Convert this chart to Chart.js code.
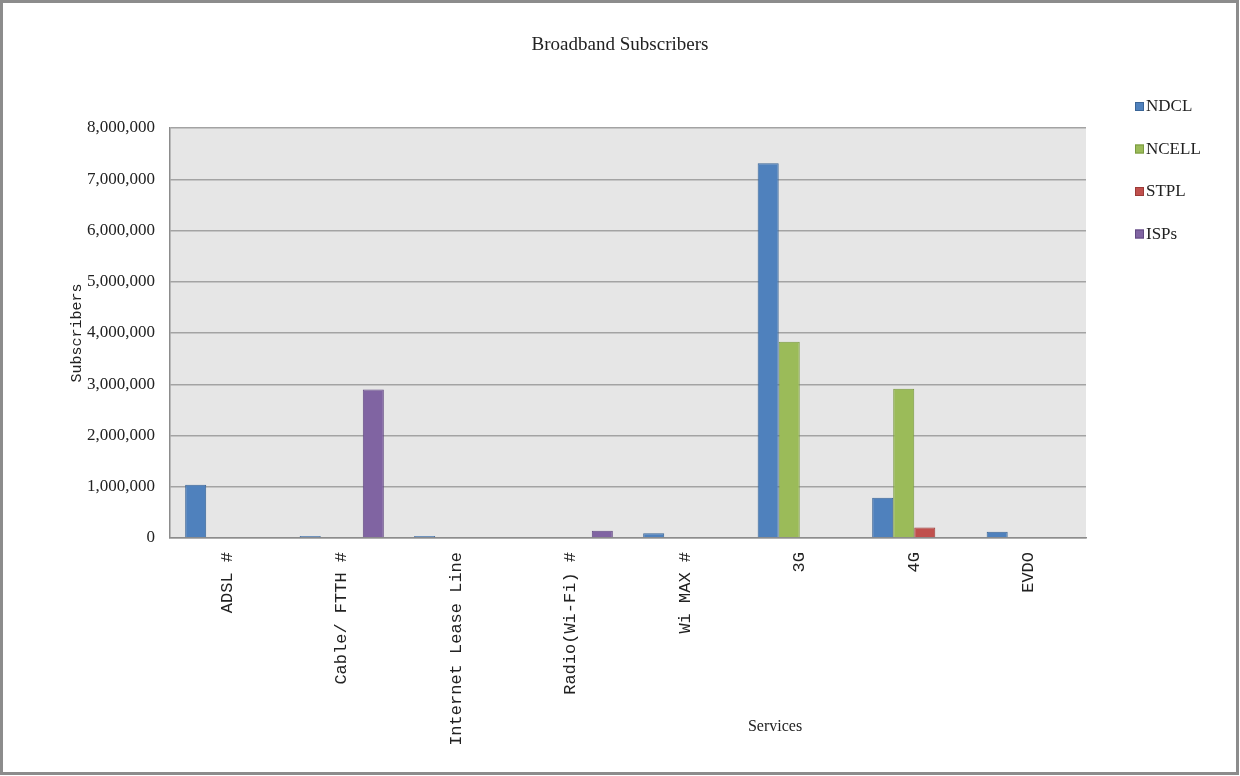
<!DOCTYPE html>
<html>
<head>
<meta charset="utf-8">
<title>Broadband Subscribers</title>
<script src="https://cdn.jsdelivr.net/npm/chart.js@4.4.1/dist/chart.umd.min.js"></script>
<style>
  html, body { margin: 0; padding: 0; background: #fff; }
  #wrap { width: 1240px; height: 776px; }
</style>
</head>
<body>
<div id="wrap"><canvas id="chart" width="1240" height="776"></canvas></div>
<script>
// values
var categories = ["ADSL #", "Cable/ FTTH #", "Internet Lease Line", "Radio(Wi-Fi) #", "Wi MAX #", "3G", "4G", "EVDO"];
var ndcl  = [1040000, 40000, 40000, 0, 95000, 7310000, 785000, 120000];
var ncell = [0, 0, 0, 0, 0, 3830000, 2910000, 0];
var stpl  = [0, 0, 0, 0, 0, 0, 205000, 0];
var isps  = [0, 2900000, 0, 140000, 0, 0, 0, 0];
var seriesNames = ["NDCL", "NCELL", "STPL", "ISPs"];
var yTicks = [0, 1000000, 2000000, 3000000, 4000000, 5000000, 6000000, 7000000, 8000000];

var fills   = ["#4F81BD", "#9BBB59", "#C0504D", "#8064A2"];
var borders = ["#3A6597", "#7A9A40", "#9C3B38", "#624A82"];

var serif = "'Liberation Serif', 'Times New Roman', serif";
var mono = "'Liberation Mono', 'Courier New', monospace";

// gray plot background, outer frame, title, legend and x title
var decor = {
  id: 'decor',
  beforeDraw: function(chart) {
    var ctx = chart.ctx, a = chart.chartArea;
    ctx.save();
    ctx.fillStyle = "#fff";
    ctx.fillRect(0, 0, chart.width, chart.height);
    ctx.fillStyle = "#E6E6E6";
    ctx.fillRect(a.left, a.top, a.right - a.left, a.bottom - a.top);
    ctx.restore();
  },
  afterDraw: function(chart) {
    var ctx = chart.ctx;
    ctx.save();
    // frame
    ctx.strokeStyle = "#8c8c8c";
    ctx.lineWidth = 3;
    ctx.strokeRect(1.5, 1.5, chart.width - 4, chart.height - 4);
    // title
    ctx.fillStyle = "#222";
    ctx.textAlign = "center";
    ctx.textBaseline = "middle";
    ctx.font = "19px " + serif;
    ctx.fillText("Broadband Subscribers", 620, 45);
    // x axis title
    ctx.font = "16px " + serif;
    ctx.fillText("Services", 775, 727);
    // legend
    ctx.textAlign = "left";
    ctx.font = "17px " + serif;
    chart.data.datasets.forEach(function(ds, i) {
      var y = 107 + i * 42.5;
      ctx.fillStyle = ds.backgroundColor;
      ctx.fillRect(1135, y - 5, 9, 9);
      ctx.strokeStyle = ds.borderColor;
      ctx.lineWidth = 1;
      ctx.strokeRect(1135.5, y - 4.5, 8, 8);
      ctx.fillStyle = "#222";
      ctx.fillText(ds.label, 1146, y);
    });
    ctx.restore();
  }
};

var sets = [ndcl, ncell, stpl, isps].map(function(vals, i) {
  return {
    label: seriesNames[i],
    data: vals,
    backgroundColor: fills[i],
    borderColor: borders[i],
    borderWidth: 1,
    categoryPercentage: 0.735,
    barPercentage: 1.0
  };
});

new Chart(document.getElementById("chart"), {
  type: 'bar',
  data: { labels: categories, datasets: sets },
  plugins: [decor],
  options: {
    responsive: false,
    animation: false,
    devicePixelRatio: 1,
    layout: { padding: { left: 0, right: 154, top: 128, bottom: 0 } },
    plugins: {
      legend: { display: false },
      tooltip: { enabled: false },
      title: { display: false }
    },
    scales: {
      x: {
        grid: { display: false, drawTicks: false },
        border: { color: "#8c8c8c", width: 1.5 },
        ticks: {
          color: "#222",
          font: { family: mono, size: 17 },
          minRotation: 90,
          maxRotation: 90,
          autoSkip: false,
          padding: 14
        },
        afterFit: function(s) { s.height = 238; }
      },
      y: {
        min: 0,
        max: 8000000,
        afterBuildTicks: function(s) {
          s.ticks = yTicks.map(function(v) { return { value: v }; });
        },
        grid: { color: "#a3a3a3", lineWidth: 1.5, drawTicks: false },
        border: { color: "#8c8c8c", width: 1.5 },
        ticks: {
          color: "#222",
          font: { family: serif, size: 17 },
          padding: 15,
          callback: function(v) { return v.toLocaleString('en-US'); }
        },
        title: {
          display: true,
          text: "Subscribers",
          color: "#222",
          font: { family: mono, size: 15 },
          padding: { top: 68, bottom: 0 }
        },
        afterFit: function(s) { s.width = 170; }
      }
    }
  }
});
</script>
</body>
</html>
